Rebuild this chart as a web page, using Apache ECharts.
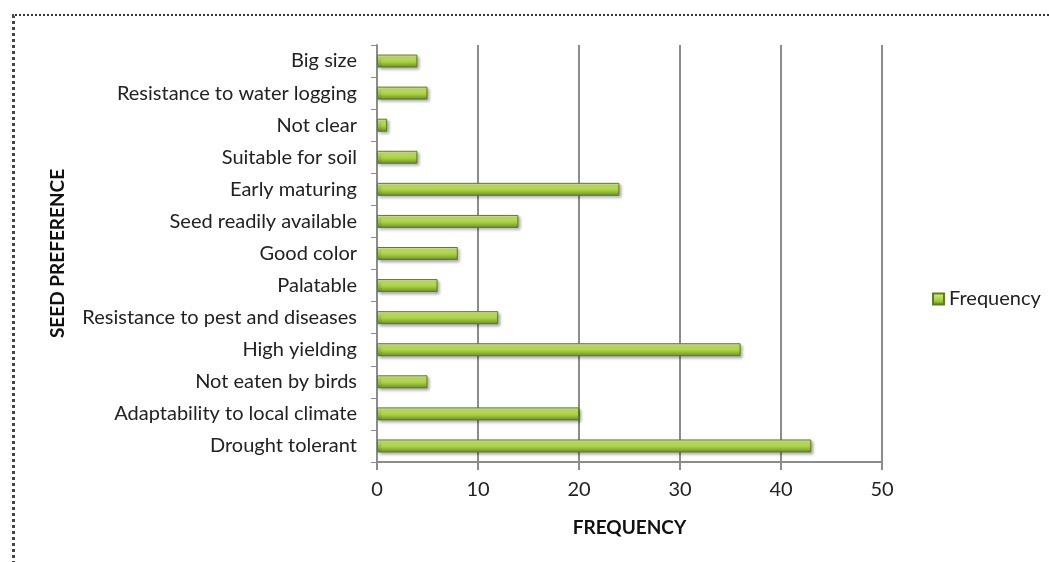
<!DOCTYPE html>
<html>
<head>
<meta charset="utf-8">
<script src="https://cdn.jsdelivr.net/npm/echarts@6/dist/echarts.min.js"></script>
<style>
  html, body { margin: 0; padding: 0; background: #fff; }
  #wrap { position: relative; width: 1049px; height: 562px; overflow: hidden; }
  #frame { position: absolute; left: 12px; top: 14px; width: 1040px; height: 600px;
           border-top: 2px dotted #333; border-left: 3px dotted #444; box-sizing: border-box; }
  #chart { position: absolute; left: 0; top: 0; width: 1049px; height: 562px; }
</style>
</head>
<body>
<div id="wrap">
  <div id="frame"></div>
  <div id="chart"></div>
</div>
<script>
// Reasons farmers gave for preferring a seed variety, top to bottom
const categories = [
  'Big size',
  'Resistance to water logging',
  'Not clear',
  'Suitable for soil',
  'Early maturing',
  'Seed readily available',
  'Good color',
  'Palatable',
  'Resistance to pest and diseases',
  'High yielding',
  'Not eaten by birds',
  'Adaptability to local climate',
  'Drought tolerant'
];
const frequency = [4, 5, 1, 4, 24, 14, 8, 6, 12, 36, 5, 20, 43];
const xTicks = [0, 10, 20, 30, 40, 50];

const fontFamily = 'Lato, "Open Sans", sans-serif';
const barFill = new echarts.graphic.LinearGradient(0, 0, 0, 1, [
  { offset: 0, color: '#e2f2a6' },
  { offset: 0.25, color: '#c5e46c' },
  { offset: 0.6, color: '#a3cc3e' },
  { offset: 1, color: '#6a8c24' }
]);

const chart = echarts.init(document.getElementById('chart'), null, { renderer: 'canvas' });
chart.setOption({
  animation: false,
  backgroundColor: 'transparent',
  grid: { left: 377, right: 167, top: 45, bottom: 100, containLabel: false },
  legend: {
    data: ['Frequency'],
    orient: 'vertical',
    left: 927, top: 284,
    icon: 'rect', itemWidth: 11, itemHeight: 11, itemGap: 6,
    textStyle: { fontFamily, fontSize: 20, color: '#222' }
  },
  xAxis: {
    type: 'value',
    min: xTicks[0], max: xTicks[xTicks.length - 1], interval: 10,
    name: 'FREQUENCY', nameLocation: 'middle', nameGap: 56,
    nameTextStyle: { fontFamily, fontSize: 19, fontWeight: 'bold', color: '#111' },
    axisLine: { show: true, lineStyle: { color: '#8c8c8c', width: 2 } },
    axisTick: { show: true, length: 8, lineStyle: { color: '#8c8c8c', width: 2 } },
    axisLabel: { fontFamily, fontSize: 20, color: '#222', margin: 18 },
    splitLine: { show: true, lineStyle: { color: '#8c8c8c', width: 2 } }
  },
  yAxis: {
    type: 'category', data: categories, inverse: true,
    name: 'SEED PREFERENCE', nameLocation: 'middle', nameGap: 310, nameRotate: 90,
    nameTextStyle: { fontFamily, fontSize: 19, fontWeight: 'bold', color: '#111' },
    axisLine: { show: true, lineStyle: { color: '#8c8c8c', width: 2 } },
    axisTick: { show: true, length: 6, lineStyle: { color: '#8c8c8c', width: 1 } },
    axisLabel: { fontFamily, fontSize: 20, color: '#222', margin: 20 },
    splitLine: { show: false }
  },
  series: [{
    name: 'Frequency',
    type: 'bar',
    data: frequency,
    barWidth: 13,
    itemStyle: {
      color: barFill,
      borderColor: '#5e7d20', borderWidth: 1,
      shadowColor: 'rgba(0,0,0,0.35)', shadowBlur: 3, shadowOffsetX: 2, shadowOffsetY: 2
    }
  }]
});
</script>
</body>
</html>
